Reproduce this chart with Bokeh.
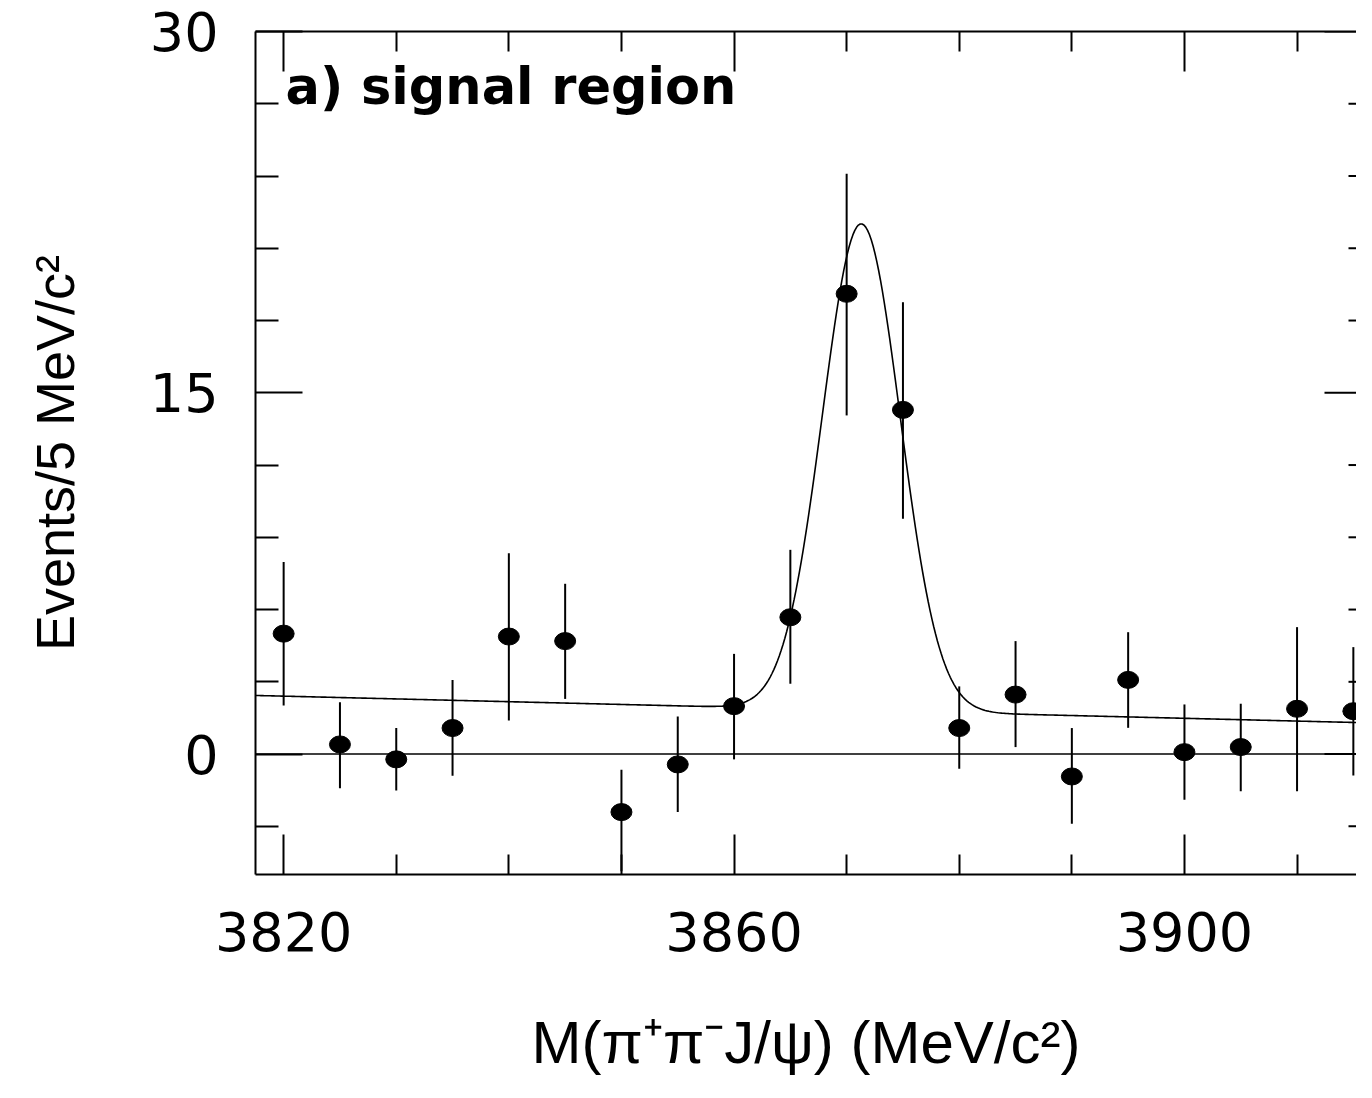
import numpy as np
from bokeh.plotting import figure
from bokeh.models import Range1d, FixedTicker, LinearAxis, Span, Label
from bokeh.embed import file_html
from bokeh.resources import INLINE

# ---------------- data ----------------
mass = [3820, 3825, 3830, 3835, 3840, 3845, 3850, 3855, 3860, 3865,
        3870, 3875, 3880, 3885, 3890, 3895, 3900, 3905, 3910, 3915]
events = [5.00, 0.40, -0.22, 1.08, 4.88, 4.69, -2.41, -0.43, 1.99, 5.68,
          19.11, 14.29, 1.08, 2.47, -0.93, 3.08, 0.08, 0.29, 1.88, 1.78]
err_up = [2.97, 1.75, 1.30, 2.00, 3.46, 2.38, 1.76, 1.99, 2.17, 2.80,
          4.98, 4.47, 1.73, 2.22, 2.01, 1.98, 1.98, 1.80, 3.39, 2.66]
err_down = [2.98, 1.82, 1.29, 1.98, 3.49, 2.40, 2.45, 1.98, 2.21, 2.76,
            5.05, 4.52, 1.69, 2.18, 1.96, 1.99, 1.98, 1.83, 3.42, 2.67]

# fitted model: Gaussian signal + linear background
fit_mean = 3871.3
fit_sigma = 3.45
fit_amp = 20.2
bkg_at_3870 = 1.83
bkg_slope = -0.0115

x_major = [3820, 3860, 3900]
x_minor = [3830, 3840, 3850, 3870, 3880, 3890, 3910]
y_major = [0, 15, 30]
y_minor = [-3, 3, 6, 9, 12, 18, 21, 24, 27]

x_title = "M(\u03c0\u207a\u03c0\u207bJ/\u03c8) (MeV/c\u00b2)"
y_title = "Events/5 MeV/c\u00b2"
panel_text = "a) signal region"

# ---------------- figure ----------------
W, H = 1356, 1082
FL, FT, FB = 255, 31, 874          # frame left / top / bottom in pixels
px_per_mev = 11.26
x_lo = 3817.5
x_hi = x_lo + (W - FL) / px_per_mev
y_lo, y_hi = -5, 30
px_per_unit = (FB - FT) / (y_hi - y_lo)

p = figure(width=W, height=H, output_backend="svg", toolbar_location=None,
           x_range=Range1d(x_lo, x_hi), y_range=Range1d(y_lo, y_hi),
           x_axis_location=None, y_axis_location=None,
           min_border_left=FL, min_border_top=FT, min_border_right=0,
           min_border_bottom=H - FB)
p.outline_line_color = None
p.grid.visible = False
p.background_fill_color = "white"
p.border_fill_color = "white"

LW = 2

def style_ticks(ax, maj_in, min_in):
    ax.major_tick_in = maj_in
    ax.major_tick_out = 0
    ax.minor_tick_in = min_in
    ax.minor_tick_out = 0
    ax.axis_line_width = LW
    ax.axis_line_color = "black"
    ax.major_tick_line_width = LW
    ax.minor_tick_line_width = LW
    ax.major_tick_line_color = "black"
    ax.minor_tick_line_color = "black"

xb = LinearAxis(ticker=FixedTicker(ticks=x_major, minor_ticks=x_minor))
style_ticks(xb, 40, 20)
xb.major_label_text_font = "DejaVu Sans"
xb.major_label_text_font_size = "54px"
xb.major_label_text_color = "black"
xb.major_label_standoff = 37
xb.axis_label = x_title
xb.axis_label_text_font = "Liberation Sans"
xb.axis_label_text_font_size = "60px"
xb.axis_label_text_font_style = "normal"
xb.axis_label_text_color = "black"
xb.axis_label_standoff = 55
p.add_layout(xb, "below")

xt = LinearAxis(ticker=FixedTicker(ticks=x_major, minor_ticks=x_minor))
style_ticks(xt, 40, 20)
xt.major_label_text_font_size = "1px"
xt.major_label_text_color = None
xt.major_label_standoff = 0
p.add_layout(xt, "above")

yl = LinearAxis(ticker=FixedTicker(ticks=y_major, minor_ticks=y_minor))
style_ticks(yl, 47, 23)
yl.major_label_text_font = "DejaVu Sans"
yl.major_label_text_font_size = "54px"
yl.major_label_text_color = "black"
yl.major_label_standoff = 37
yl.axis_label = y_title
yl.axis_label_text_font = "Liberation Sans"
yl.axis_label_text_font_size = "54px"
yl.axis_label_text_font_style = "normal"
yl.axis_label_text_color = "black"
yl.axis_label_standoff = 62
p.add_layout(yl, "left")

# right-hand inward ticks (the frame's right edge is at the window edge)
r_minor_len = 8 / px_per_mev
r_major_len = 32 / px_per_mev
p.segment(x0=[x_hi - r_minor_len] * len(y_minor), y0=y_minor,
          x1=[x_hi] * len(y_minor), y1=y_minor, line_color="black", line_width=LW)
p.segment(x0=[x_hi - r_major_len] * len(y_major), y0=y_major,
          x1=[x_hi] * len(y_major), y1=y_major, line_color="black", line_width=LW)

# zero line
p.add_layout(Span(location=0, dimension="width", line_color="black", line_width=1.6))

# fit curve
xs = np.linspace(x_lo, x_hi, 600)
ys = (bkg_at_3870 + bkg_slope * (xs - 3870)
      + fit_amp * np.exp(-0.5 * ((xs - fit_mean) / fit_sigma) ** 2))
p.line(xs, ys, line_color="black", line_width=1.6)

# error bars and points
lo = [v - d for v, d in zip(events, err_down)]
hi = [v + u for v, u in zip(events, err_up)]
p.segment(x0=mass, y0=lo, x1=mass, y1=hi, line_color="black", line_width=LW)
p.ellipse(x=mass, y=events, width=21, height=17, width_units="screen",
          height_units="screen", fill_color="black", line_color="black")

# panel text
p.add_layout(Label(x=x_lo + 30 / px_per_mev, y=y_hi - (86 - FT) / px_per_unit,
                   text=panel_text,
                   text_font="DejaVu Sans", text_font_style="bold",
                   text_font_size="51px", text_baseline="alphabetic",
                   text_color="black"))

open("out.html", "w").write(file_html(p, INLINE))
